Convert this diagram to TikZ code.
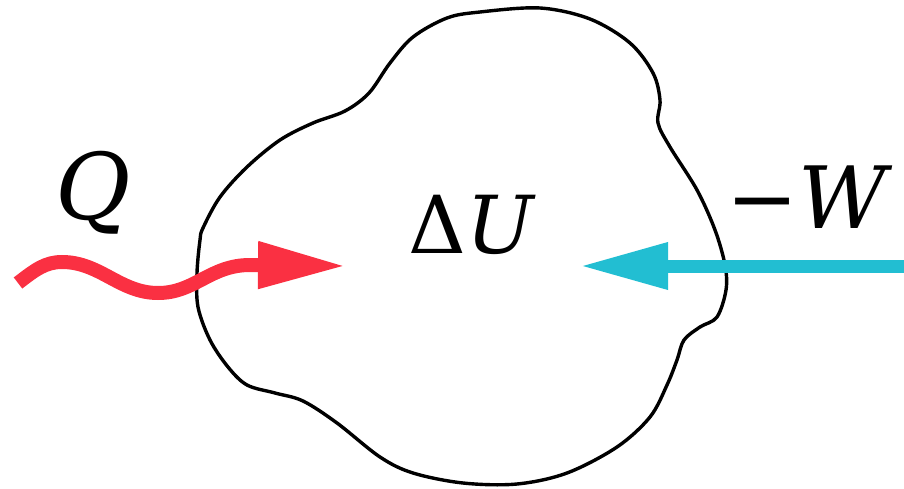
\documentclass[tikz,border=0pt]{standalone}
\usepackage{fontspec}
\setmainfont{DejaVu Serif}
\usetikzlibrary{arrows.meta}
\definecolor{heatred}{RGB}{250,48,66}
\definecolor{workcyan}{RGB}{34,190,210}
\begin{document}
\begin{tikzpicture}[x=1pt,y=-1pt,
  blob/.style={line width=3.4pt, black, line join=round},
  heatflow/.style={heatred, line width=14pt, -{Triangle[length=88pt,width=44pt]}},
  workflow/.style={workcyan, line width=13pt, -{Triangle[length=88pt,width=44pt]}},
  sym/.style={inner sep=0pt, anchor=base}]
\useasboundingbox (0,0) rectangle (904,489);
% the system boundary
\draw[blob] plot[smooth cycle, tension=0.55] coordinates {
  (480,12) (540,8) (590,19) (630,43) (653,73) (660,100) (658,123) (670,147)
  (697,190) (715,230) (725,265) (726,290) (717,317) (700,327) (684,340)
  (677,360) (667,385) (650,417) (617,447) (567,473) (517,484) (463,483)
  (413,473) (380,457) (337,423) (303,401) (275,393) (247,385) (228,367)
  (210,340) (198,307) (197,273) (200,240) (203,228) (220,197) (247,167)
  (280,140) (313,123) (345,111) (369,93) (390,63) (413,37) (447,18)};
% labels
\node[sym, font=\fontsize{92}{92}\selectfont] (Q) at (93,219) {\textit{Q}};
\node[sym, font=\fontsize{80}{80}\selectfont] (dU) at (472,253) {Δ\textit{U}};
\node[sym, font=\fontsize{86}{86}\selectfont] (W) at (810,228) {−\textit{W}};
% heat flowing in
\coordinate (qstart) at (18,283);
\coordinate (qtip) at (346,266);
\draw[heatflow] (qstart) .. controls (35,270) and (45,262) .. (62,262)
  .. controls (100,262) and (120,293) .. (158,293)
  .. controls (195,293) and (210,265) .. (250,265) -- (qtip);
% work done on the system
\coordinate (wstart) at (910,266);
\coordinate (wtip) at (580,266);
\draw[workflow] (wstart) -- (wtip);
\end{tikzpicture}
\end{document}
